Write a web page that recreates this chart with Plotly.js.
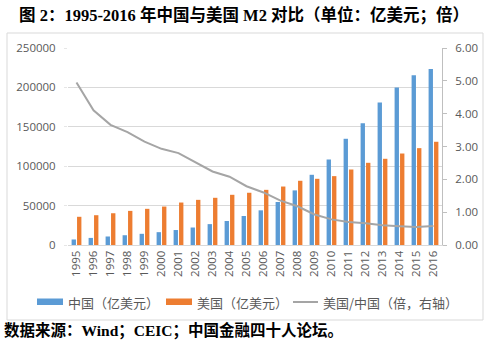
<!DOCTYPE html>
<html>
<head>
<meta charset="utf-8">
<script src="https://cdn.plot.ly/plotly-3.0.1.min.js"></script>
<style>html,body{margin:0;padding:0;background:#fff;}#chart{width:488px;height:346px;}</style>
</head>
<body>
<div id="chart"></div>
<script>
var years = ['1995','1996','1997','1998','1999','2000','2001','2002','2003','2004','2005','2006','2007','2008','2009','2010','2011','2012','2013','2014','2015','2016'];
var chinaM2 = [7000,9000,10800,12400,14200,16300,19000,22200,26500,30500,36800,44000,54600,69300,89100,108500,134800,154500,180800,200000,215500,223300];
var usM2 = [35800,37800,40300,43300,45900,48800,53900,57300,59900,63700,66300,70000,74200,81500,84000,87400,95800,104300,109400,116100,122900,131000];
var ratio = [4.95,4.10,3.66,3.44,3.15,2.93,2.80,2.53,2.24,2.08,1.79,1.60,1.35,1.18,0.93,0.78,0.70,0.66,0.60,0.57,0.55,0.58];

var L = 68, R = 442, T = 48, B = 245, W = 488, H = 346;
function px(x){return (x-L)/(R-L);}
function py(y){return (B-y)/(B-T);}

var cjk = '"Noto Sans CJK SC", sans-serif';
var serif = '"Liberation Serif", "Noto Sans CJK SC", serif';
var tickFont = {family:'"Open Sans", "Liberation Sans", sans-serif', size:11.5, color:'#595959'};

var traces = [
  {type:'bar', x:years, y:chinaM2, name:'中国（亿美元）', marker:{color:'#5b9bd5'}, showlegend:false, hoverinfo:'none'},
  {type:'bar', x:years, y:usM2, name:'美国（亿美元）', marker:{color:'#ed7d31'}, showlegend:false, hoverinfo:'none'},
  {type:'scatter', mode:'lines', x:years, y:ratio, yaxis:'y2', name:'美国/中国（倍，右轴）', line:{color:'#a5a5a5', width:2}, showlegend:false, hoverinfo:'none'}
];

var layout = {
  width:W, height:H,
  margin:{l:L, r:W-R, t:T, b:H-B, pad:0},
  paper_bgcolor:'#fff', plot_bgcolor:'#fff',
  barmode:'group', bargap:0.36, bargroupgap:0.2,
  title:{text:'图 2：1995-2016 年中国与美国 M2 对比（单位：亿美元；倍）', font:{family:serif, size:16.5, color:'#000', weight:'bold'}, x:19/W, xanchor:'left', xref:'container', y:1-15/H, yanchor:'middle', yref:'container'},
  xaxis:{type:'category', tickangle:-90, tickfont:tickFont, showgrid:false, showline:true, linecolor:'#d9d9d9', ticks:'', zeroline:false},
  yaxis:{range:[0,250000], dtick:50000, tickfont:tickFont, gridcolor:'#d9d9d9', gridwidth:1, zeroline:false, showline:false, ticks:'outside', ticklen:3, tickcolor:'#e6e6e6', tickformat:'d', ticklabelstandoff:6},
  yaxis2:{range:[0,6], dtick:1, tickformat:'.2f', overlaying:'y', side:'right', showgrid:false, zeroline:false, showline:true, linecolor:'#bfbfbf', ticks:'outside', ticklen:4, tickcolor:'#bfbfbf', tickfont:tickFont, ticklabelstandoff:6},
  shapes:[
    {type:'rect', xref:'paper', yref:'paper', x0:px(7), x1:px(483), y0:py(320), y1:py(33), line:{color:'#d9d9d9', width:1}, fillcolor:'rgba(0,0,0,0)', layer:'below'},
    {type:'rect', xref:'paper', yref:'paper', x0:px(37), x1:px(63), y0:py(305), y1:py(298.5), line:{width:0}, fillcolor:'#5b9bd5'},
    {type:'rect', xref:'paper', yref:'paper', x0:px(166), x1:px(192), y0:py(305), y1:py(298.5), line:{width:0}, fillcolor:'#ed7d31'},
    {type:'line', xref:'paper', yref:'paper', x0:px(293), x1:px(318), y0:py(302), y1:py(302), line:{color:'#a5a5a5', width:2}}
  ],
  annotations:[
    {xref:'paper', yref:'paper', x:px(66), y:py(302), xanchor:'left', yanchor:'middle', text:'中国（亿美元）', showarrow:false, font:{family:cjk, size:13, color:'#595959'}},
    {xref:'paper', yref:'paper', x:px(195), y:py(302), xanchor:'left', yanchor:'middle', text:'美国（亿美元）', showarrow:false, font:{family:cjk, size:13, color:'#595959'}},
    {xref:'paper', yref:'paper', x:px(321), y:py(302), xanchor:'left', yanchor:'middle', text:'美国/中国（倍，右轴）', showarrow:false, font:{family:cjk, size:13, color:'#595959'}},
    {xref:'paper', yref:'paper', x:px(2), y:py(330), xanchor:'left', yanchor:'middle', text:'数据来源：Wind；CEIC；中国金融四十人论坛。', showarrow:false, font:{family:serif, size:15.5, color:'#000', weight:'bold'}}
  ]
};

Plotly.newPlot('chart', traces, layout, {staticPlot:true, displayModeBar:false});
</script>
</body>
</html>
